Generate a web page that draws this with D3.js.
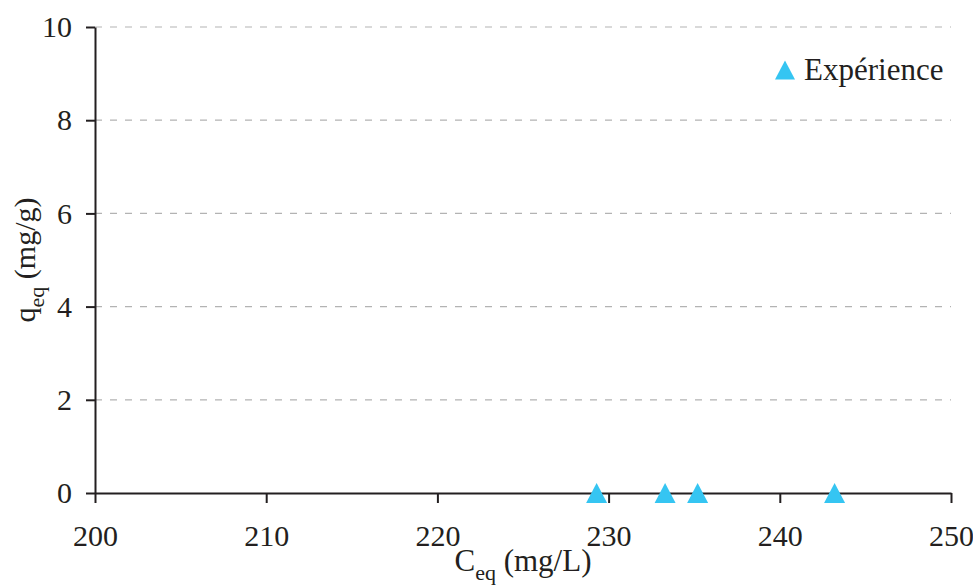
<!DOCTYPE html>
<html><head><meta charset="utf-8">
<script src="https://cdn.jsdelivr.net/npm/d3@7"></script>
<style>
@font-face { font-family: "ChartSerif"; src: local("Liberation Serif"), local("LiberationSerif"), local("Times New Roman"); }
</style>
</head>
<body style="margin:0">
<svg id="chart" width="973" height="586"></svg>
<script>
const ceq = [229.3, 233.3, 235.2, 243.2];
const qeq = [0, 0, 0, 0];
const xTicks = [200, 210, 220, 230, 240, 250];
const yTicks = [0, 2, 4, 6, 8, 10];
const seriesName = "Expérience";

const W = 973, H = 586;
const m = {left: 95, right: 22, top: 27, bottom: 93};
const svg = d3.select("#chart");
const x = d3.scaleLinear().domain([200, 250]).range([m.left, W - m.right]);
const y = d3.scaleLinear().domain([0, 10]).range([H - m.bottom, m.top]);
const ink = "#231f20";
const markerColor = "#35c5f2";

function serifText(sel, size) {
  return sel.attr("font-family", "Liberation Serif")
    .style("font-family", "\"Liberation Serif\", ChartSerif, \"Times New Roman\", serif", "important")
    .style("font-size", size || "30px").attr("fill", ink);
}

// grid
svg.append("g").selectAll("line").data(yTicks.filter(d => d > 0)).join("line")
  .attr("x1", x(200)).attr("x2", x(250))
  .attr("y1", d => y(d)).attr("y2", d => y(d))
  .attr("stroke", "#b3b3b3").attr("stroke-width", 1.2).attr("stroke-dasharray", "7,8");

// x axis
const gx = svg.append("g").attr("transform", `translate(0,${y(0)})`)
  .call(d3.axisBottom(x).tickValues(xTicks).tickSize(10).tickSizeOuter(0).tickPadding(22).tickFormat(d3.format("d")));
gx.attr("font-family", null).attr("font-size", null);
gx.select(".domain").attr("stroke", ink).attr("stroke-width", 2);
gx.selectAll(".tick line").attr("stroke", ink).attr("stroke-width", 2);
serifText(gx.selectAll(".tick text"));

// y axis
const gy = svg.append("g").attr("transform", `translate(${x(200)},0)`)
  .call(d3.axisLeft(y).tickValues(yTicks).tickSize(9).tickSizeOuter(0).tickPadding(14).tickFormat(d3.format("d")));
gy.attr("font-family", null).attr("font-size", null);
gy.select(".domain").attr("stroke", ink).attr("stroke-width", 2);
gy.selectAll(".tick line").attr("stroke", ink).attr("stroke-width", 2);
serifText(gy.selectAll(".tick text"));

function tri(cx, cy, hw, hh) {
  return `M${cx},${cy - hh}L${cx + hw},${cy + hh}L${cx - hw},${cy + hh}Z`;
}

svg.append("g").selectAll("path").data(ceq.map((c, i) => [c, qeq[i]])).join("path")
  .attr("d", d => tri(x(d[0]), y(d[1]), 10.5, 10))
  .attr("fill", markerColor);

// legend
svg.append("path").attr("d", tri(785, 70, 10, 9.5)).attr("fill", markerColor);
serifText(svg.append("text").attr("x", 804).attr("y", 80), "31px").text(seriesName);

// x label
const xl = serifText(svg.append("text").attr("x", (x(200) + x(250)) / 2).attr("y", 571)
  .attr("text-anchor", "middle"), "31px");
xl.append("tspan").text("C");
xl.append("tspan").style("font-size", "22px").attr("dy", 9).text("eq");
xl.append("tspan").attr("dy", -9).text(" (mg/L)");

// y label
const yl = serifText(svg.append("text").attr("transform", `translate(35,${(y(0) + y(10)) / 2}) rotate(-90)`)
  .attr("text-anchor", "middle"), "30px");
yl.append("tspan").text("q");
yl.append("tspan").style("font-size", "22px").attr("dy", 9).text("eq");
yl.append("tspan").attr("dy", -9).text(" (mg/g)");
</script>
</body></html>
